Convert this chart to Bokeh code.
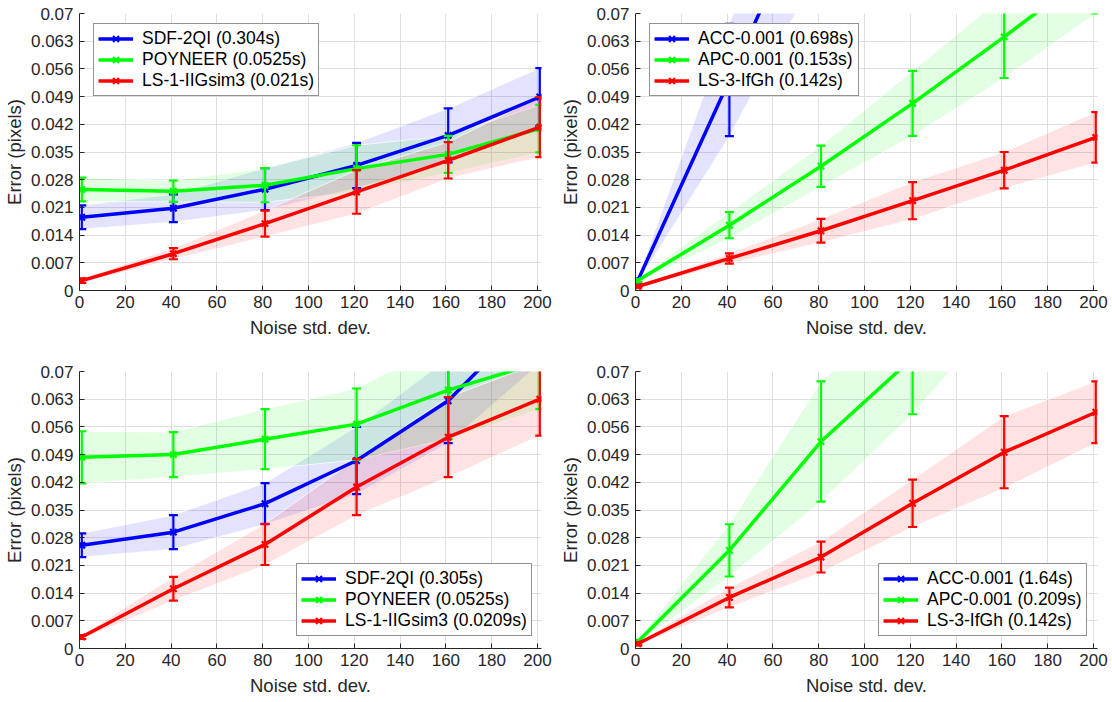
from bokeh.plotting import figure
from bokeh.layouts import column, row
from bokeh.models import FixedTicker, Legend, LegendItem, Range1d
from bokeh.embed import file_html
from bokeh.resources import INLINE

# Noise levels at which each method was evaluated
noise = [1, 41, 81, 121, 161, 201]

x_ticks = [0, 20, 40, 60, 80, 100, 120, 140, 160, 180, 200]
y_ticks = [0, 0.007, 0.014, 0.021, 0.028, 0.035, 0.042, 0.049, 0.056, 0.063, 0.07]
y_tick_labels = ["0", "0.007", "0.014", "0.021", "0.028", "0.035",
                 "0.042", "0.049", "0.056", "0.063", "0.07"]

# Panel (a): reference surface, short run
a_names = ["SDF-2QI (0.304s)", "POYNEER (0.0525s)", "LS-1-IIGsim3 (0.021s)"]
a_sdf = [0.0185, 0.0208, 0.0256, 0.0316, 0.0392, 0.0489]
a_sdf_err = [0.0030, 0.0035, 0.0053, 0.0057, 0.0068, 0.0073]
a_poy = [0.0255, 0.0251, 0.0266, 0.0308, 0.0344, 0.0409]
a_poy_err = [0.0030, 0.0027, 0.0043, 0.0059, 0.0047, 0.0060]
a_ls = [0.0025, 0.0093, 0.0169, 0.0249, 0.0329, 0.0413]
a_ls_err = [0.0006, 0.0014, 0.0033, 0.0055, 0.0046, 0.0076]

# Panel (b): correlation-based methods
b_names = ["ACC-0.001 (0.698s)", "APC-0.001 (0.153s)", "LS-3-IfGh (0.142s)"]
b_acc = [0.0025, 0.0532, 0.105, 0.157, 0.210, 0.262]
b_acc_err = [0.0005, 0.0142, 0.023, 0.034, 0.045, 0.057]
b_apc = [0.0025, 0.0165, 0.0314, 0.0473, 0.0641, 0.0815]
b_apc_err = [0.0004, 0.0033, 0.0052, 0.0082, 0.0104, 0.0115]
b_ls = [0.0010, 0.0081, 0.0151, 0.0227, 0.0304, 0.0387]
b_ls_err = [0.0003, 0.0013, 0.0030, 0.0047, 0.0046, 0.0064]

# Panel (c): reference surface, long run
c_names = ["SDF-2QI (0.305s)", "POYNEER (0.0525s)", "LS-1-IIGsim3 (0.0209s)"]
c_sdf = [0.0261, 0.0294, 0.0366, 0.0475, 0.0626, 0.0860]
c_sdf_err = [0.0030, 0.0043, 0.0052, 0.0085, 0.0107, 0.0140]
c_poy = [0.0483, 0.0490, 0.0529, 0.0567, 0.0653, 0.0723]
c_poy_err = [0.0066, 0.0057, 0.0076, 0.0090, 0.0124, 0.0118]
c_ls = [0.0029, 0.0151, 0.0263, 0.0408, 0.0534, 0.0630]
c_ls_err = [0.0005, 0.0030, 0.0052, 0.0071, 0.0101, 0.0092]

# Panel (d): correlation-based methods, long run
d_names = ["ACC-0.001 (1.64s)", "APC-0.001 (0.209s)", "LS-3-IfGh (0.142s)"]
d_acc = [0.085, 0.350, 0.700, 1.050, 1.400, 1.750]
d_acc_err = [0.010, 0.040, 0.080, 0.120, 0.160, 0.200]
d_apc = [0.0017, 0.0248, 0.0523, 0.0734, 0.1010, 0.1280]
d_apc_err = [0.0005, 0.0066, 0.0152, 0.0142, 0.0150, 0.0190]
d_ls = [0.0012, 0.0129, 0.0231, 0.0367, 0.0496, 0.0597]
d_ls_err = [0.0004, 0.0025, 0.0039, 0.0060, 0.0091, 0.0078]

COLORS = ["#0000ff", "#00ff00", "#ff0000"]
FONT = "Liberation Sans"
TEXT = "#262626"

FIG_W = 556
LEFT = 79
FRAME_W = 462          # 0..200 spans 458 px; a little room for the last point
X_END = 200 * FRAME_W / 458.0
CAP_HALF = 4.5 * X_END / FRAME_W   # half cap width in data units

LEG_ROW = 21
LEG_PAD = 4
LEG_H = 3 * LEG_ROW + 2 * LEG_PAD


def panel(names, means, errs, height, top, bottom, legend_xy):
    p = figure(width=FIG_W, height=height, output_backend="svg",
               toolbar_location=None, tools="",
               x_range=Range1d(0, X_END), y_range=Range1d(0, 0.07),
               min_border_left=LEFT, min_border_right=FIG_W - LEFT - FRAME_W,
               min_border_top=top, min_border_bottom=bottom)
    p.outline_line_color = None
    p.background_fill_color = "white"
    p.border_fill_color = "white"

    for ax in (p.xaxis[0], p.yaxis[0]):
        ax.axis_line_color = TEXT
        ax.axis_line_width = 1
        ax.major_tick_line_color = TEXT
        ax.major_tick_in = 5
        ax.major_tick_out = 0
        ax.minor_tick_line_color = None
        ax.major_label_text_font = FONT
        ax.major_label_text_font_size = "17px"
        ax.major_label_text_color = TEXT
        ax.axis_label_text_font = FONT
        ax.axis_label_text_font_size = "18.5px"
        ax.axis_label_text_font_style = "normal"
        ax.axis_label_text_color = TEXT

    p.xaxis.ticker = FixedTicker(ticks=x_ticks)
    p.yaxis.ticker = FixedTicker(ticks=y_ticks)
    p.yaxis.major_label_overrides = dict(zip(y_ticks, y_tick_labels))
    p.xaxis.major_label_standoff = 5
    p.yaxis.major_label_standoff = 6
    p.xaxis.axis_label_standoff = 6
    p.yaxis.axis_label_standoff = 3
    p.xaxis.axis_label = "Noise std. dev."
    p.yaxis.axis_label = "Error (pixels)"
    p.xgrid.ticker = FixedTicker(ticks=x_ticks)
    p.ygrid.ticker = FixedTicker(ticks=y_ticks)
    p.grid.grid_line_color = "#dfdfdf"
    p.grid.grid_line_width = 1

    lows = [[m - e for m, e in zip(mv, ev)] for mv, ev in zip(means, errs)]
    highs = [[m + e for m, e in zip(mv, ev)] for mv, ev in zip(means, errs)]

    # shaded spread bands
    for lo, hi, c in zip(lows, highs, COLORS):
        p.varea(x=noise, y1=lo, y2=hi, fill_color=c, fill_alpha=0.11)
        p.line(noise, lo, line_color="white", line_alpha=0.7, line_width=1)
        p.line(noise, hi, line_color="white", line_alpha=0.7, line_width=1)

    items = []
    for name, mv, lo, hi, c in zip(names, means, lows, highs, COLORS):
        p.segment(x0=noise, y0=lo, x1=noise, y1=hi, line_color=c, line_width=2.2)
        p.segment(x0=[x - CAP_HALF for x in noise], y0=lo,
                  x1=[x + CAP_HALF for x in noise], y1=lo,
                  line_color=c, line_width=2.2)
        p.segment(x0=[x - CAP_HALF for x in noise], y0=hi,
                  x1=[x + CAP_HALF for x in noise], y1=hi,
                  line_color=c, line_width=2.2)
        lr = p.line(noise, mv, line_color=c, line_width=3.5)
        mr = p.scatter(noise, mv, marker="x", size=9, line_color=c, line_width=2.2)
        items.append(LegendItem(label=name, renderers=[lr, mr]))

    leg = Legend(items=items, location=legend_xy,
                 label_text_font=FONT, label_text_font_size="17.5px",
                 label_text_color="black",
                 glyph_width=35, glyph_height=LEG_ROW, label_height=LEG_ROW,
                 label_standoff=9, spacing=0, padding=LEG_PAD, margin=0,
                 border_line_color=TEXT, border_line_width=1,
                 background_fill_color="white", background_fill_alpha=1.0)
    p.add_layout(leg)
    return p


TOP_H, TOP_T, TOP_B = 350, 13, 60
BOT_H, BOT_T, BOT_B = 352, 21, 54

pa = panel(a_names, [a_sdf, a_poy, a_ls], [a_sdf_err, a_poy_err, a_ls_err],
           TOP_H, TOP_T, TOP_B, (14, 277 - 12 - LEG_H))
pb = panel(b_names, [b_acc, b_apc, b_ls], [b_acc_err, b_apc_err, b_ls_err],
           TOP_H, TOP_T, TOP_B, (14, 277 - 12 - LEG_H))
pc = panel(c_names, [c_sdf, c_poy, c_ls], [c_sdf_err, c_poy_err, c_ls_err],
           BOT_H, BOT_T, BOT_B, (217, 12))
pd = panel(d_names, [d_acc, d_apc, d_ls], [d_acc_err, d_apc_err, d_ls_err],
           BOT_H, BOT_T, BOT_B, (243, 12))

layout = column(row(pa, pb), row(pc, pd))
open("out.html", "w").write(file_html(layout, INLINE))
